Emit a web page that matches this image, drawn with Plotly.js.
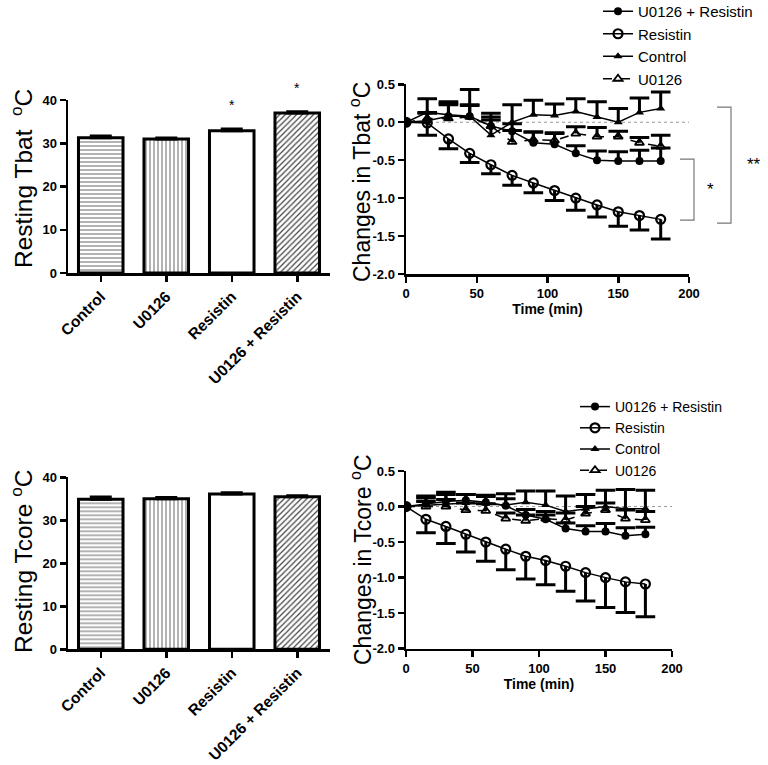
<!DOCTYPE html>
<html><head><meta charset="utf-8">
<script src="https://cdn.plot.ly/plotly-3.0.1.min.js"></script>
<style>body{margin:0;padding:0;background:#fff}#chart{width:768px;height:765px}</style>
</head><body><div id="chart"></div>
<script>
// ---- data ----
const barCategories = ['Control', 'U0126', 'Resistin', 'U0126 + Resistin'];
const restingTbat = [31.3, 31.0, 32.9, 37.0];
const restingTbatErr = [0.4, 0.2, 0.4, 0.3];
const restingTbatSig = ['', '', '*', '*'];
const restingTcore = [34.9, 35.0, 36.1, 35.5];
const restingTcoreErr = [0.5, 0.3, 0.3, 0.2];

const seriesNames = ['U0126 + Resistin', 'Resistin', 'Control', 'U0126'];
const timeMin = [0, 15, 30, 45, 60, 75, 90, 105, 120, 135, 150, 165, 180];

const tbatUR = [0, 0.02, 0.08, 0.08, -0.05, -0.12, -0.27, -0.29, -0.41, -0.50, -0.51, -0.51, -0.51];
const tbatURErr = [0, 0.10, 0.15, 0.14, 0.17, 0.10, 0.14, 0.14, 0.10, 0.12, 0.12, 0.14, 0.17];
const tbatResistin = [0, -0.01, -0.22, -0.41, -0.56, -0.70, -0.80, -0.90, -1.00, -1.09, -1.18, -1.23, -1.28];
const tbatResistinErr = [0, 0.16, 0.13, 0.12, 0.12, 0.13, 0.13, 0.13, 0.16, 0.16, 0.19, 0.19, 0.26];
const tbatControl = [0, 0.13, 0.10, 0.08, -0.17, 0.00, 0.10, 0.09, 0.14, 0.07, 0.00, 0.13, 0.18];
const tbatControlErr = [0, 0.18, 0.17, 0.35, 0.20, 0.23, 0.19, 0.15, 0.17, 0.20, 0.18, 0.19, 0.22];
const tbatU0126 = [0, 0.05, 0.05, 0.07, -0.05, -0.26, -0.23, -0.24, -0.15, -0.19, -0.19, -0.27, -0.32];
const tbatU0126Err = [0, 0.08, 0.20, 0.16, 0.12, 0.15, 0.10, 0.10, 0.09, 0.12, 0.07, 0.07, 0.15];

const tcoreUR = [0, 0.04, 0.07, 0.09, 0.06, 0.01, -0.12, -0.18, -0.31, -0.35, -0.35, -0.41, -0.39];
const tcoreURErr = [0, 0.08, 0.10, 0.08, 0.08, 0.10, 0.08, 0.06, 0.08, 0.08, 0.11, 0.11, 0.10];
const tcoreResistin = [0, -0.18, -0.28, -0.39, -0.50, -0.60, -0.70, -0.76, -0.84, -0.93, -1.00, -1.06, -1.09];
const tcoreResistinErr = [0, 0.19, 0.24, 0.25, 0.27, 0.29, 0.32, 0.34, 0.35, 0.40, 0.42, 0.43, 0.46];
const tcoreControl = [0, 0.02, 0.03, 0.05, 0.04, 0.02, 0.06, 0.02, -0.07, -0.03, 0.00, -0.03, -0.03];
const tcoreControlErr = [0, 0.13, 0.17, 0.12, 0.12, 0.16, 0.16, 0.20, 0.22, 0.20, 0.23, 0.27, 0.26];
const tcoreU0126 = [0, 0.00, 0.00, -0.05, -0.06, -0.17, -0.20, -0.17, -0.19, -0.10, -0.05, -0.17, -0.19];
const tcoreU0126Err = [0, 0.07, 0.10, 0.10, 0.10, 0.08, 0.08, 0.10, 0.10, 0.10, 0.10, 0.12, 0.12];

const changeTickVals = [-2, -1.5, -1, -0.5, 0, 0.5];
const changeTickText = ['-2.0', '-1.5', '-1.0', '-0.5', '0.0', '0.5'];

const yTitles = ['Resting Tbat  <sup>o</sup>C', 'Changes in Tbat <sup>o</sup>C',
                 'Resting Tcore <sup>o</sup>C', 'Changes in Tcore <sup>o</sup>C'];

// ---- styling helpers ----
const FONT = 'Liberation Sans, Arial, Helvetica, sans-serif';
const zeros = a => a.map(() => 0);

function barTrace(vals, errs, xa, ya) {
  return {
    type: 'bar', x: barCategories, y: vals, xaxis: xa, yaxis: ya, width: 0.68,
    showlegend: false, hoverinfo: 'skip',
    marker: {
      color: '#ffffff', line: {color: '#000', width: 3},
      pattern: {shape: ['-', '|', '', '/'], fgcolor: ['#808080', '#808080', '#ffffff', '#444444'],
                bgcolor: '#ffffff', size: 4, solidity: 0.3}
    },
    error_y: {type: 'data', symmetric: false, array: errs, arrayminus: zeros(errs),
              color: '#000', thickness: 3, width: 11}
  };
}

const styles = [
  {symbol: 'circle', size: 8, lw: 0, dash: 'solid', down: false},
  {symbol: 'circle-open', size: 9, lw: 2.2, dash: 'solid', down: true},
  {symbol: 'triangle-up', size: 8, lw: 0, dash: 'solid', down: false},
  {symbol: 'triangle-up-open', size: 8, lw: 1.8, dash: 'dash', down: false}
];

function lineTraces(vals, errs, xa, ya, legendId) {
  const out = [];
  vals.forEach((v, i) => {
    const s = styles[i];
    out.push({
      type: 'scatter', mode: 'lines+markers', name: seriesNames[i], x: timeMin, y: v,
      xaxis: xa, yaxis: ya, legend: legendId, hoverinfo: 'skip',
      line: {color: '#000', width: 1.5, dash: s.dash},
      marker: {symbol: s.symbol, size: s.size, color: '#000', line: {color: '#000', width: s.lw}},
      error_y: {type: 'data', symmetric: false,
                array: s.down ? zeros(errs[i]) : errs[i],
                arrayminus: s.down ? errs[i] : zeros(errs[i]),
                color: '#000', thickness: 3, width: 0}
    });
    out.push({
      type: 'scatter', mode: 'markers', x: timeMin, xaxis: xa, yaxis: ya,
      y: v.map((y, k) => errs[i][k] > 0 ? (s.down ? y - errs[i][k] : y + errs[i][k]) : null),
      showlegend: false, hoverinfo: 'skip',
      marker: {symbol: 'line-ew', size: 14, color: '#000', line: {color: '#000', width: 3}}
    });
  });
  return out;
}

const data = [
  barTrace(restingTbat, restingTbatErr, 'x', 'y'),
  ...lineTraces([tbatUR, tbatResistin, tbatControl, tbatU0126],
                [tbatURErr, tbatResistinErr, tbatControlErr, tbatU0126Err], 'x2', 'y2', 'legend'),
  barTrace(restingTcore, restingTcoreErr, 'x3', 'y3'),
  ...lineTraces([tcoreUR, tcoreResistin, tcoreControl, tcoreU0126],
                [tcoreURErr, tcoreResistinErr, tcoreControlErr, tcoreU0126Err], 'x4', 'y4', 'legend2')
];

const W = 768, H = 765;
const px = v => v / W, py = v => 1 - v / H;

const axisCommon = {showline: true, linecolor: '#000', linewidth: 2.5, ticks: 'outside',
  ticklen: 6, tickwidth: 2.5, tickcolor: '#000', showgrid: false, zeroline: false,
  fixedrange: true, automargin: false};
const tickBold = s => ({family: FONT, size: s, color: '#000', weight: 'bold'});

const barX = (anchor, dom) => Object.assign({}, axisCommon, {
  domain: dom, anchor: anchor, type: 'category', range: [-0.5, 3.5],
  tickangle: -45, tickfont: tickBold(15.5)});
const barY = (anchor, dom) => Object.assign({}, axisCommon, {
  domain: dom, anchor: anchor, range: [0, 40], dtick: 10, tickfont: tickBold(13)});
const lineX = (anchor, dom) => Object.assign({}, axisCommon, {
  domain: dom, anchor: anchor, range: [0, 200], dtick: 50, tickfont: tickBold(13),
  title: {text: 'Time (min)', font: {family: FONT, size: 14, color: '#000', weight: 'bold'}, standoff: 4}});
const lineY = (anchor, dom) => Object.assign({}, axisCommon, {
  domain: dom, anchor: anchor, range: [-2, 0.5], tickmode: 'array',
  tickvals: changeTickVals, ticktext: changeTickText, tickfont: tickBold(13)});

const sigAnnotations = [];
restingTbat.forEach((v, i) => {
  if (restingTbatSig[i]) {
    sigAnnotations.push({xref: 'x', yref: 'y domain', x: barCategories[i],
      y: (v + restingTbatErr[i] + 5.5) / 40, text: restingTbatSig[i], showarrow: false,
      xanchor: 'center', yanchor: 'middle', font: {family: FONT, size: 14, color: '#000'}});
  }
});

// y-axis titles (placed as rotated annotations beside each axis)
const titlePos = [[21, 179, 24.5], [360, 182, 23], [21, 562, 24.5], [361, 560, 23]];
const titleAnnotations = yTitles.map((t, i) => ({
  xref: 'paper', yref: 'paper', x: px(titlePos[i][0]), y: py(titlePos[i][1]),
  xanchor: 'center', yanchor: 'middle', textangle: -90, text: t, showarrow: false,
  font: {family: FONT, size: titlePos[i][2], color: '#000'}}));

const layout = {
  width: W, height: H, margin: {l: 0, r: 0, t: 0, b: 0, autoexpand: false},
  paper_bgcolor: '#fff', plot_bgcolor: 'rgba(0,0,0,0)',
  font: {family: FONT, color: '#000'},
  xaxis: barX('y', [px(68), px(330)]),
  yaxis: barY('x', [py(273), py(100)]),
  xaxis2: lineX('y2', [px(406), px(689)]),
  yaxis2: lineY('x2', [py(274), py(84.3)]),
  xaxis3: barX('y3', [px(68), px(330)]),
  yaxis3: barY('x3', [py(649.3), py(477.3)]),
  xaxis4: lineX('y4', [px(406), px(672)]),
  yaxis4: lineY('x4', [py(648.7), py(471)]),
  legend: {x: px(598), y: py(-5), xanchor: 'left', yanchor: 'top', bgcolor: 'rgba(0,0,0,0)',
           font: {family: FONT, size: 15, color: '#000'}, tracegroupgap: 0},
  legend2: {x: px(575), y: py(391), xanchor: 'left', yanchor: 'top', bgcolor: 'rgba(0,0,0,0)',
           font: {family: FONT, size: 14, color: '#000'}, tracegroupgap: 0},
  shapes: [
    {type: 'line', xref: 'x2', yref: 'y2', x0: 0, x1: 200, y0: 0, y1: 0, line: {color: '#999', width: 1, dash: 'dot'}, layer: 'below'},
    {type: 'line', xref: 'x4', yref: 'y4', x0: 0, x1: 200, y0: 0, y1: 0, line: {color: '#999', width: 1, dash: 'dot'}, layer: 'below'},
    {type: 'path', xref: 'paper', yref: 'y2', path: `M ${px(680)} -0.485 H ${px(694)} V -1.29 H ${px(680)}`, line: {color: '#777', width: 1.2}},
    {type: 'path', xref: 'paper', yref: 'y2', path: `M ${px(717)} 0.2 H ${px(731)} V -1.33 H ${px(717)}`, line: {color: '#777', width: 1.2}}
  ],
  annotations: [
    ...titleAnnotations,
    ...sigAnnotations,
    {xref: 'paper', yref: 'y2', x: px(710), y: -0.88, xanchor: 'center', yanchor: 'middle', text: '*', showarrow: false, font: {family: FONT, size: 17, color: '#000'}},
    {xref: 'paper', yref: 'y2', x: px(754), y: -0.56, xanchor: 'center', yanchor: 'middle', text: '**', showarrow: false, font: {family: FONT, size: 17, color: '#000'}}
  ]
};

Plotly.newPlot('chart', data, layout, {staticPlot: true, displayModeBar: false});
</script>
</body></html>
